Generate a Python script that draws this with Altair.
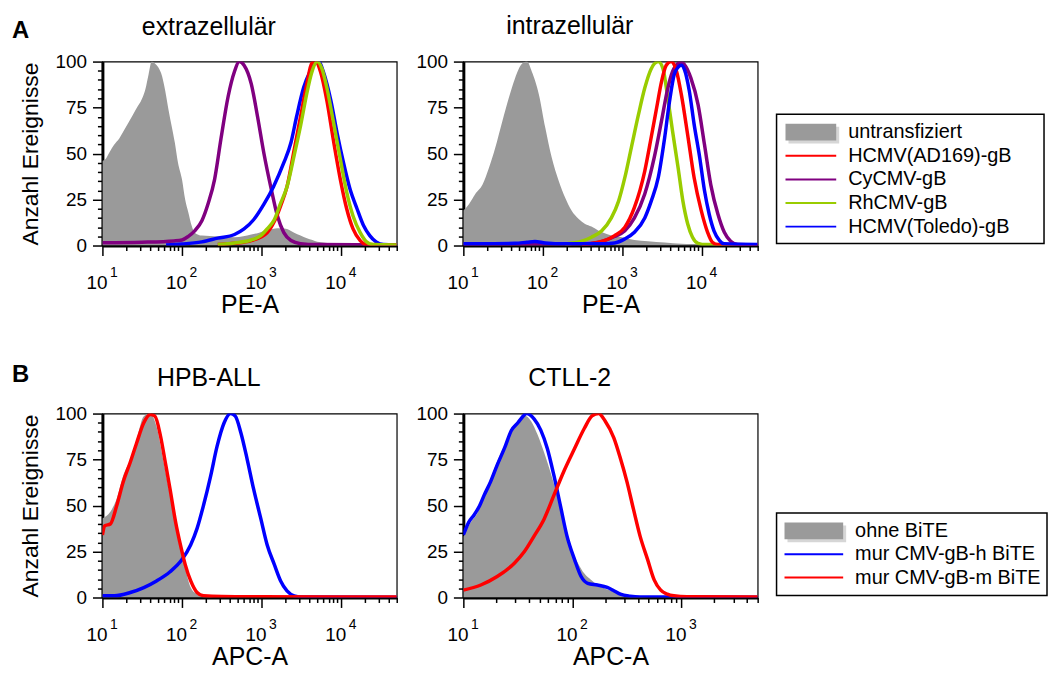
import altair as alt
import pandas as pd

FONT = "Liberation Sans"
GRAY = "#9a9a9a"
RED = "#ff0000"
PURPLE = "#800080"
GREEN = "#99cc00"
BLUE = "#0000ff"

# ---------------- Panel A1: extrazellulär (x given as log10 exponents) ----------------
a1_gray_e = [1.00, 1.04, 1.08, 1.12, 1.17, 1.21, 1.25, 1.33, 1.42, 1.50, 1.54, 1.58, 1.62, 1.66, 1.70,
             1.75, 1.79, 1.83, 1.87, 1.91, 1.95, 2.00, 2.04, 2.08, 2.12, 2.16, 2.25, 2.35, 2.45, 2.55,
             2.66, 2.77, 2.87, 2.97, 3.07, 3.14, 3.20, 3.26, 3.32, 3.41, 3.49, 3.57, 3.64, 3.70, 3.80,
             3.90, 4.05, 4.20, 4.45, 4.70]
a1_gray_y = [46, 47, 50, 53, 56, 58, 61, 67, 74, 80, 85, 93, 100, 99, 97,
             92, 84, 74, 65, 56, 45, 36, 25, 18, 11, 7, 5.4, 5.2, 5, 4.8,
             4.5, 5, 6, 7, 8.5, 9, 9.4, 9.4, 9, 7, 5.5, 4, 3, 2, 1.5,
             1, 0.7, 0.5, 0.3, 0.2]
a1_purple_e = [1.00, 1.50, 1.90, 2.00, 2.08, 2.16, 2.25, 2.33, 2.41, 2.49, 2.58, 2.66, 2.72, 2.78, 2.87,
               2.95, 3.03, 3.12, 3.20, 3.28, 3.37, 3.49, 3.70, 4.70]
a1_purple_y = [1.5, 1.8, 2.5, 3, 5, 8, 13.5, 23, 36, 58, 81, 94.6, 100, 98, 88,
               70, 50, 31, 16, 7, 2.7, 1, 0.5, 0.3]
a1_blue_e = [1.80, 2.00, 2.25, 2.45, 2.66, 2.78, 2.90, 3.03, 3.15, 3.28, 3.37, 3.44, 3.53, 3.61, 3.67,
             3.72, 3.78, 3.87, 3.95, 4.03, 4.11, 4.20, 4.28, 4.36, 4.44, 4.53, 4.70]
a1_blue_y = [0.3, 0.8, 2, 4, 6, 9, 14, 22.5, 32, 45, 56, 70, 86, 94.6, 99,
             100, 94, 79, 61, 45, 31, 20, 11, 5.4, 2, 0.5, 0.3]
a1_green_e = [2.45, 2.66, 2.87, 2.99, 3.07, 3.16, 3.24, 3.32, 3.41, 3.49, 3.57, 3.63, 3.70, 3.76, 3.82,
              3.90, 3.99, 4.07, 4.15, 4.24, 4.32, 4.40, 4.70]
a1_green_y = [0.5, 1.4, 3, 5.4, 9, 14, 23, 32, 49, 65, 83, 94, 100, 96, 86,
              68, 47, 29, 16, 7, 2, 0.5, 0.3]
a1_red_e = [2.45, 2.66, 2.87, 3.07, 3.16, 3.24, 3.32, 3.41, 3.49, 3.57, 3.63, 3.68, 3.74, 3.82, 3.90,
            3.99, 4.07, 4.15, 4.24, 4.32, 4.70]
a1_red_y = [0.5, 1.2, 2.7, 7, 13, 21.6, 32, 52, 70, 88, 99, 100, 94.6, 79, 58,
            36, 20, 9, 2.7, 0.5, 0.3]

# ---------------- Panel A2: intrazellulär ----------------
a2_gray_e = [1.00, 1.07, 1.15, 1.24, 1.32, 1.40, 1.49, 1.57, 1.65, 1.74, 1.80, 1.86, 1.95, 2.03, 2.11,
             2.20, 2.28, 2.36, 2.45, 2.53, 2.61, 2.70, 2.82, 2.99, 3.15, 3.32, 3.53, 3.74, 4.00, 4.30,
             4.70]
a2_gray_y = [19, 22.5, 28, 33, 42, 53, 67.6, 80, 91, 99, 100, 94.6, 82, 64, 48,
             35, 26, 19, 14.4, 11.7, 10.3, 8, 6, 4.5, 3, 2.3, 1.6, 0.9, 0.5, 0.3,
             0.2]
a2_blue_e = [1.00, 1.30, 1.65, 1.80, 1.90, 2.03, 2.28, 2.70, 2.90, 3.03, 3.15, 3.28, 3.36, 3.45, 3.53,
             3.59, 3.65, 3.70, 3.74, 3.78, 3.84, 3.90, 3.97, 4.03, 4.09, 4.15, 4.22, 4.28, 4.70]
a2_blue_y = [0.9, 1, 1.2, 1.8, 2.2, 1.4, 0.9, 0.9, 1.4, 3.6, 7.2, 15, 24, 37, 58.6,
             78, 93, 97, 98, 95.5, 84, 66, 48, 30, 17, 8, 2.7, 0.9, 0.5]
a2_red_e = [2.49, 2.70, 2.90, 3.03, 3.15, 3.28, 3.36, 3.43, 3.49, 3.55, 3.61, 3.68, 3.74, 3.82, 3.90,
            3.99, 4.07, 4.13, 4.20, 4.70]
a2_red_y = [0.5, 1.8, 5.4, 10, 20.7, 40.5, 58.6, 75, 89, 98, 100, 94.6, 82, 60, 37,
            19, 7.2, 1.8, 0.5, 0.3]
a2_purple_e = [1.00, 2.49, 2.70, 2.90, 3.03, 3.15, 3.28, 3.40, 3.49, 3.57, 3.63, 3.70, 3.74, 3.80, 3.86,
               3.95, 4.03, 4.11, 4.20, 4.28, 4.36, 4.45, 4.70]
a2_purple_y = [0.5, 0.9, 1.8, 4.9, 8, 15, 28, 48, 67.6, 85.6, 94.6, 99, 99.6, 97, 91,
               76.6, 55, 33, 17, 7.2, 2.3, 0.5, 0.3]
a2_green_e = [2.28, 2.49, 2.61, 2.74, 2.86, 2.95, 3.03, 3.11, 3.20, 3.28, 3.36, 3.45, 3.51, 3.57, 3.63,
              3.70, 3.76, 3.82, 3.88, 3.95, 4.05, 4.70]
a2_green_y = [0.9, 2.3, 4.5, 8, 15, 24, 37, 53, 71, 85.6, 96, 100, 96, 80, 62,
              42, 24, 11.7, 4.5, 1.2, 0.5, 0.3]

# ---------------- Panel B1: HPB-ALL ----------------
b1_gray_e = [1.00, 1.10, 1.18, 1.26, 1.35, 1.43, 1.52, 1.60, 1.68, 1.77, 1.85, 1.94, 2.02, 2.11, 2.19,
             2.27, 2.40, 4.70]
b1_gray_y = [43, 46.6, 53.8, 66, 75, 86, 98.6, 100, 93, 73.5, 55.6, 34, 19.7, 5.4, 1.8,
             0.4, 0.2, 0.1]
b1_red_e = [1.00, 1.03, 1.10, 1.18, 1.26, 1.35, 1.43, 1.52, 1.60, 1.66, 1.73, 1.79, 1.85, 1.92, 1.98,
            2.04, 2.11, 2.19, 2.27, 2.50, 3.00, 4.70]
b1_red_y = [34, 39, 40, 50, 62.7, 73.5, 84, 95, 99.5, 98.6, 87.8, 73.5, 59, 41, 28.7,
            18, 9, 2.7, 0.9, 0.5, 0.4, 0.3]
b1_blue_e = [1.00, 1.15, 1.35, 1.52, 1.68, 1.85, 2.00, 2.11, 2.19, 2.27, 2.36, 2.44, 2.53, 2.61, 2.67,
             2.74, 2.82, 2.90, 2.99, 3.07, 3.16, 3.24, 3.32, 3.41, 3.50, 4.70]
b1_blue_y = [0.9, 0.9, 2.7, 5.4, 9, 14, 20.6, 28.7, 37.6, 50, 66, 82, 95, 100, 98.6,
             89.6, 75, 59, 43, 28.7, 18, 9, 3.6, 0.9, 0.3, 0.2]

# ---------------- Panel B2: CTLL-2 ----------------
b2_gray_e = [1.00, 1.07, 1.13, 1.19, 1.25, 1.31, 1.38, 1.44, 1.50, 1.56, 1.62, 1.68, 1.74, 1.80, 1.86,
             1.92, 1.98, 2.05, 2.11, 2.17, 2.23, 2.32, 2.44, 2.56, 2.69, 3.70]
b2_gray_y = [33, 41, 46, 55.5, 64.7, 74, 83, 92, 96, 99, 96, 88.6, 79, 68, 55.5,
             41, 28, 18.8, 13, 9.6, 6.8, 4.4, 2.2, 0.7, 0.2, 0.1]
b2_blue_e = [1.00, 1.05, 1.10, 1.15, 1.19, 1.25, 1.31, 1.38, 1.44, 1.50, 1.54, 1.58, 1.65, 1.71, 1.77,
             1.83, 1.89, 1.95, 2.02, 2.08, 2.14, 2.23, 2.32, 2.38, 2.44, 2.53, 2.62, 3.70]
b2_blue_y = [34, 41, 45, 50, 55.5, 63, 72, 81.6, 90.8, 95, 98, 100, 97, 91, 81,
             66.5, 50, 33.5, 20.6, 11.4, 7.7, 6.8, 5.5, 3.7, 1.8, 0.7, 0.3, 0.2]
b2_red_e = [1.00, 1.16, 1.31, 1.47, 1.56, 1.65, 1.74, 1.83, 1.92, 2.02, 2.11, 2.18, 2.24, 2.30, 2.38,
            2.44, 2.50, 2.56, 2.62, 2.69, 2.75, 2.81, 2.87, 2.93, 3.05, 3.70]
b2_red_y = [4, 6.8, 11.4, 18.8, 25, 33.5, 42.6, 55.5, 68.4, 81, 92, 98.7, 100, 96, 86.8,
            75.7, 63, 48, 33.5, 20.6, 9.6, 4, 1.8, 0.9, 0.4, 0.3]

# ---------------- Legends and panel letters ----------------
legend_a_labels = ["untransfiziert", "HCMV(AD169)-gB", "CyCMV-gB", "RhCMV-gB", "HCMV(Toledo)-gB"]
legend_a_colors = [GRAY, RED, PURPLE, GREEN, BLUE]
legend_b_labels = ["ohne BiTE", "mur CMV-gB-h BiTE", "mur CMV-gB-m BiTE"]
legend_b_colors = [GRAY, BLUE, RED]
panel_letters = ["A", "B"]

PANEL_W = 296
PANEL_H = 185
DECADES = [10, 100, 1000, 10000]
DEC_TEST = "indexof([10, 100, 1000, 10000], datum.value) >= 0"
Y_TEST = "datum.value % 25 === 0"


def to_df(e, y):
    return pd.DataFrame({"x": [10 ** v for v in e], "y": y})


def x_tick_values(xmax):
    return [m * 10 ** k for k in range(1, 5) for m in range(1, 10) if m * 10 ** k <= xmax]


def main_x_axis(xmax, title):
    return alt.Axis(
        orient="bottom", values=x_tick_values(xmax), title=title,
        labelExpr=f"{DEC_TEST} ? '10' : ''",
        tickSize={"condition": {"test": DEC_TEST, "value": 10}, "value": 5},
        tickColor="black", tickWidth=1.5, domainColor="black", domainWidth=3,
        labelFont=FONT, labelFontSize=19, labelColor="black", labelPadding=18,
        labelOverlap=False, labelFlush=False, labelOffset=-6, grid=False,
        titleFont=FONT, titleFontSize=25, titleFontWeight="normal", titleColor="black",
        titlePadding=0,
    )


def exp_x_axis(xmax):
    return alt.Axis(
        orient="bottom", values=[d for d in DECADES if d <= xmax], title=None,
        labelExpr="'' + round(log(datum.value) / LN10)",
        ticks=False, tickSize=0, domain=False, grid=False,
        labelFont=FONT, labelFontSize=14, labelColor="black", labelPadding=20,
        labelOverlap=False, labelFlush=False, labelOffset=11,
    )


def y_axis(title):
    return alt.Axis(
        values=list(range(0, 101, 5)), title=title,
        labelExpr=f"{Y_TEST} ? datum.label : ''",
        tickSize={"condition": {"test": Y_TEST, "value": 10}, "value": 5},
        tickColor="black", tickWidth=1.5, domainColor="black", domainWidth=3,
        labelFont=FONT, labelFontSize=19, labelColor="black", labelPadding=6,
        labelOverlap=False, labelFlush=False, grid=False,
        titleFont=FONT, titleFontSize=23, titleFontWeight="normal", titleColor="black",
        titlePadding=13,
    )


def panel(gray, lines, title, xtitle, xmax, ytitle, title_offset, letter=None, letter_y=-24):
    xs = alt.Scale(type="log", domain=[10, xmax], nice=False)
    ys = alt.Scale(domain=[0, 100], nice=False)
    yax = y_axis(ytitle)
    area = alt.Chart(gray).mark_area(color=GRAY, interpolate="monotone", clip=True).encode(
        x=alt.X("x:Q", scale=xs, axis=exp_x_axis(xmax)),
        y=alt.Y("y:Q", scale=ys, axis=yax),
    )
    layers = [area]
    for i, (df, color) in enumerate(lines):
        layers.append(
            alt.Chart(df).mark_line(color=color, strokeWidth=3.5, interpolate="monotone", clip=True).encode(
                x=alt.X("x:Q", scale=xs, axis=main_x_axis(xmax, xtitle) if i == 0 else None),
                y=alt.Y("y:Q", scale=ys, axis=yax),
            )
        )
    if letter is not None:
        layers.append(
            alt.Chart(pd.DataFrame({"t": [letter]})).mark_text(
                font=FONT, fontSize=24, fontWeight="bold", color="black",
                align="left", baseline="alphabetic").encode(
                x=alt.value(-91), y=alt.value(letter_y), text="t:N")
        )
    return alt.layer(*layers).resolve_axis(x="independent").properties(
        width=PANEL_W, height=PANEL_H,
        title=alt.TitleParams(title, font=FONT, fontSize=25, fontWeight="normal", color="black",
                              baseline="alphabetic", offset=title_offset, dx=-41),
    )


def legend(labels, colors, width, gap, box_h, first, last, x1, x2, tx):
    df = pd.DataFrame({"label": labels, "color": colors})
    y = alt.Y("label:N", sort=labels, axis=None,
              scale=alt.Scale(type="point", padding=0, range=[gap + first, gap + last]))
    base = alt.Chart(df)
    frame = base.transform_filter(alt.datum.label == labels[0]).mark_rect(
        fill="white", stroke="black", strokeWidth=1.5).encode(
        x=alt.value(0), x2=alt.value(width), y=alt.value(gap), y2=alt.value(gap + box_h))
    shadow = base.transform_filter(alt.datum.label == labels[0]).mark_rule(
        strokeWidth=17, color="#d6d6d6", yOffset=3).encode(
        x=alt.value(x1 + 3), x2=alt.value(x2 + 3), y=y)
    box = base.transform_filter(alt.datum.label == labels[0]).mark_rule(
        strokeWidth=17, color=GRAY).encode(x=alt.value(x1), x2=alt.value(x2), y=y)
    rules = base.transform_filter(alt.datum.label != labels[0]).mark_rule(strokeWidth=2).encode(
        x=alt.value(x1), x2=alt.value(x2), y=y, color=alt.Color("color:N", scale=None))
    text = base.mark_text(align="left", baseline="middle", font=FONT, fontSize=20, color="black").encode(
        x=alt.value(tx), y=y, text="label:N")
    return alt.layer(frame, shadow, box, rules, text).properties(
        width=width, height=gap + box_h,
        view=alt.ViewBackground(strokeOpacity=0),
    )


pA1 = panel(to_df(a1_gray_e, a1_gray_y),
            [(to_df(a1_purple_e, a1_purple_y), PURPLE), (to_df(a1_blue_e, a1_blue_y), BLUE),
             (to_df(a1_red_e, a1_red_y), RED), (to_df(a1_green_e, a1_green_y), GREEN)],
            "extrazellulär", "PE-A", 50000, "Anzahl Ereignisse", -41, panel_letters[0], -24)
pA2 = panel(to_df(a2_gray_e, a2_gray_y),
            [(to_df(a2_green_e, a2_green_y), GREEN), (to_df(a2_purple_e, a2_purple_y), PURPLE),
             (to_df(a2_red_e, a2_red_y), RED), (to_df(a2_blue_e, a2_blue_y), BLUE)],
            "intrazellulär", "PE-A", 50000, None, -6)
pB1 = panel(to_df(b1_gray_e, b1_gray_y),
            [(to_df(b1_blue_e, b1_blue_y), BLUE), (to_df(b1_red_e, b1_red_y), RED)],
            "HPB-ALL", "APC-A", 50000, "Anzahl Ereignisse", -48, panel_letters[1], -32)
pB2 = panel(to_df(b2_gray_e, b2_gray_y),
            [(to_df(b2_blue_e, b2_blue_y), BLUE), (to_df(b2_red_e, b2_red_y), RED)],
            "CTLL-2", "APC-A", 5000, None, -6)

legA = legend(legend_a_labels, legend_a_colors, 269, 53, 130, 18, 113, 9, 60, 72)
legB = legend(legend_b_labels, legend_b_colors, 272, 100, 83, 18, 65, 8, 67, 79)

rowA = alt.hconcat(pA1, pA2, legA, spacing=16)
rowB = alt.hconcat(pB1, pB2, legB, spacing=16)

chart = alt.vconcat(rowA, rowB, spacing=44).properties(
    padding={"left": 11, "top": 11, "right": 0, "bottom": 0},
).configure(background="white").configure_view(stroke="black", strokeWidth=1.2)

chart.save("out.html", embed_options={"renderer": "svg", "actions": False})
